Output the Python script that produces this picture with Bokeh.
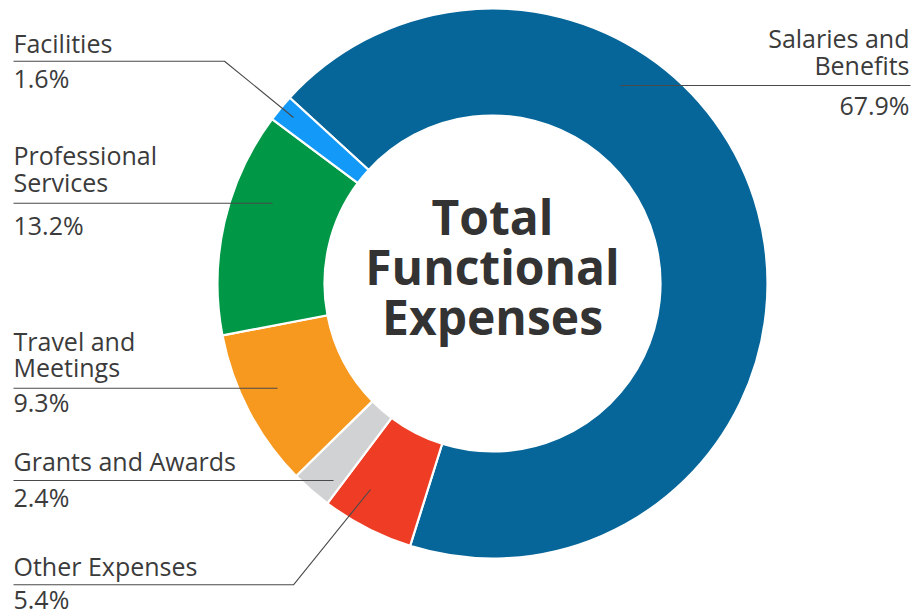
import numpy as np
from bokeh.plotting import figure
from bokeh.models import Range1d
from bokeh.core.properties import value
from bokeh.embed import file_html
from bokeh.resources import INLINE

# ---- data (clockwise order starting from the top-left) ----
categories = ["Salaries and Benefits", "Other Expenses", "Grants and Awards",
              "Travel and Meetings", "Professional Services", "Facilities"]
shares = [67.9, 5.4, 2.4, 9.3, 13.2, 1.6]
colors = ["#066699", "#ef3d25", "#d1d2d4", "#f7981f", "#009846", "#1399f7"]
center_title = ["Total", "Functional", "Expenses"]

# ---- layout (page pixel coordinates) ----
W, H = 914, 616
def Y(py):
    return H - py

cx, cy = 492, 283
r_in, r_out = 168, 275
start_deg = 137.5

label_lines = {
    "Salaries and Benefits": ["Salaries and", "Benefits"],
    "Other Expenses": ["Other Expenses"],
    "Grants and Awards": ["Grants and Awards"],
    "Travel and Meetings": ["Travel and", "Meetings"],
    "Professional Services": ["Professional", "Services"],
    "Facilities": ["Facilities"],
}
# x, align, first baseline, percent baseline, leader polyline
label_layout = {
    "Salaries and Benefits": dict(x=909, align="right", y0=48.5, yp=115,
                                  lead=[(910, 85), (620, 85)]),
    "Facilities": dict(x=13, align="left", y0=53.5, yp=88.5,
                       lead=[(13, 60.7), (224, 60.7), (293, 117)]),
    "Professional Services": dict(x=13, align="left", y0=165.7, yp=235,
                                  lead=[(13, 202.7), (272, 202.7)]),
    "Travel and Meetings": dict(x=13, align="left", y0=351, yp=412.7,
                                lead=[(13, 387.7), (277, 387.7)]),
    "Grants and Awards": dict(x=13, align="left", y0=471.7, yp=507.7,
                              lead=[(13, 480), (333, 480)]),
    "Other Expenses": dict(x=13, align="left", y0=576.7, yp=609,
                           lead=[(13, 584.3), (293, 584.3), (370, 489)]),
}
line_step = 26.6
lab_size = 25
title_size = 48
shift = 0.435  # baseline correction, in em

p = figure(width=W, height=H, x_range=Range1d(0, W), y_range=Range1d(0, H),
           output_backend="svg", toolbar_location=None,
           x_axis_location=None, y_axis_location=None, min_border=0)
p.grid.visible = False
p.outline_line_color = None
p.background_fill_color = "white"
p.border_fill_color = "white"

vals = np.array(shares, dtype=float)
frac = vals / vals.sum() * 360.0
cum = np.concatenate([[0], np.cumsum(frac)])
a_start = np.deg2rad(start_deg - cum[:-1])
a_end = np.deg2rad(start_deg - cum[1:])

p.annular_wedge(x=[cx] * len(vals), y=[Y(cy)] * len(vals),
                inner_radius=r_in, outer_radius=r_out,
                start_angle=list(a_end), end_angle=list(a_start), direction="anticlock",
                fill_color=colors, line_color="white", line_width=2.2)

font = value("Open Sans")
txt_color = "#3b3b3b"
ls = shift * lab_size
for cat, v in zip(categories, shares):
    lay = label_layout[cat]
    xs = [pt[0] for pt in lay["lead"]]
    ys = [Y(pt[1]) for pt in lay["lead"]]
    p.line(xs, ys, line_color="#4a4a4a", line_width=1.1)
    lines = label_lines[cat]
    p.text(x=[lay["x"]] * len(lines),
           y=[Y(lay["y0"] + i * line_step - ls) for i in range(len(lines))],
           text=lines, text_font=font, text_font_size=f"{lab_size}px",
           text_color=txt_color, text_align=lay["align"], text_baseline="alphabetic")
    p.text(x=[lay["x"]], y=[Y(lay["yp"] - ls)], text=[f"{v:.1f}%"],
           text_font=font, text_font_size=f"{lab_size}px",
           text_color=txt_color, text_align=lay["align"], text_baseline="alphabetic")

ts = shift * title_size
p.text(x=[cx] * 3, y=[Y(236.7 - ts), Y(286.7 - ts), Y(336.7 - ts)], text=center_title,
       text_font=font, text_font_size=f"{title_size}px", text_font_style="bold",
       text_color="#333333", text_align="center", text_baseline="alphabetic")

open("out.html", "w").write(file_html(p, INLINE))
